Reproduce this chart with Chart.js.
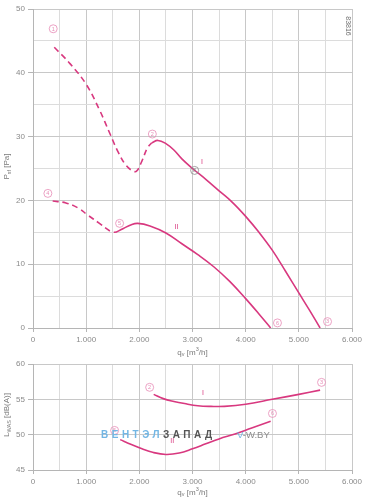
<!DOCTYPE html>
<html>
<head>
<meta charset="utf-8">
<script src="https://cdn.jsdelivr.net/npm/chart.js@4.4.0/dist/chart.umd.min.js"></script>
<style>
  body { margin: 0; background: #fff; width: 371px; height: 499px; overflow: hidden; position: relative; font-family: "Liberation Sans", Arial, sans-serif; }
  #pressureChart { position: absolute; left: 0; top: 0; }
  #noiseChart { position: absolute; left: 0; top: 355px; }
  .wm { position: absolute; top: 429px; font-size: 10px; line-height: 12px; white-space: nowrap; }
  .wm1 { left: 101px; letter-spacing: 3.5px; font-weight: bold; }
  .wm2 { left: 237px; font-size: 9.5px; }
  .blue { color: #72b6e4; }
  .dark { color: #555555; }
  .grey { color: #8c8c8c; }
</style>
</head>
<body>
<canvas id="pressureChart" width="371" height="360"></canvas>
<canvas id="noiseChart" width="371" height="144"></canvas>
<div class="wm wm1"><span class="blue">ВЕНТЭЛ</span><span class="dark">ЗАПАД</span></div>
<div class="wm wm2"><span class="blue">V</span><span class="grey">-W.BY</span></div>
<script>
// axis ranges / ticks
const qTicks = [0, 1000, 2000, 3000, 4000, 5000, 6000];
const pTicks = [0, 10, 20, 30, 40, 50];
const lTicks = [45, 50, 55, 60];

// static pressure, curve I (dashed = unstable part)
const p1DashQ = [400, 700, 1000, 1250, 1450, 1600, 1750, 1880, 1950, 2050, 2150, 2230];
const p1DashP = [44, 41.4, 38.2, 34.2, 30.4, 27.6, 25.5, 24.6, 24.6, 26.2, 28.2, 29.0];
const p1Q = [2230, 2350, 2500, 2650, 2800, 3000, 3250, 3500, 3750, 4000, 4250, 4500, 4750, 5000, 5200, 5400];
const p1P = [29.0, 29.4, 28.9, 27.9, 26.5, 25.0, 23.3, 21.5, 19.7, 17.5, 15.0, 12.2, 8.9, 5.5, 2.8, 0];

// static pressure, curve II
const p2DashQ = [370, 620, 850, 1030, 1250, 1470, 1560];
const p2DashP = [19.9, 19.6, 18.8, 17.7, 16.4, 15.1, 15.0];
const p2Q = [1560, 1700, 1850, 1970, 2200, 2500, 2800, 3100, 3400, 3700, 4000, 4250, 4470];
const p2P = [15.0, 15.6, 16.2, 16.4, 16.0, 14.9, 13.2, 11.5, 9.6, 7.3, 4.6, 2.2, 0];

// sound power
const l1Q = [2270, 2450, 2650, 2850, 3100, 3350, 3600, 4000, 4500, 5000, 5400];
const l1L = [55.7, 55.1, 54.7, 54.4, 54.1, 54.0, 54.0, 54.3, 55.0, 55.7, 56.3];
const l2Q = [1640, 1850, 2050, 2250, 2500, 2750, 3000, 3250, 3500, 3800, 4100, 4470];
const l2L = [49.3, 48.6, 48.0, 47.5, 47.2, 47.4, 48.0, 48.7, 49.4, 50.1, 50.9, 51.9];

// circled point numbers [q, value, label]
const pMarks = [[380, 46.9, '1'], [2245, 30.4, '2'], [5540, 1.0, '3'], [280, 21.1, '4'], [1629, 16.4, '5'], [4598, 0.8, '6']];
const pOpPoint = [3040, 24.7, '8'];
const pCurveNames = [[3180, 26.0, 'I'], [2700, 15.8, 'II']];
const lMarks = [[2194, 56.7, '2'], [1535, 50.6, '5'], [5427, 57.4, '3'], [4504, 53.0, '6']];
const lCurveNames = [[3198, 55.95, 'I'], [2620, 49.05, 'II']];

const PINK = '#d8387f';
const PINK_LIGHT = '#e78cb6';
const FONT = '"Liberation Sans", Arial, sans-serif';

function pts(xs, ys) {
  return xs.map((x, i) => ({ x: x, y: ys[i] }));
}

function curve(xs, ys, dashed) {
  return {
    data: pts(xs, ys),
    showLine: true,
    borderColor: PINK,
    borderWidth: 1.6,
    borderDash: dashed ? [6, 4] : [],
    pointRadius: 0,
    tension: 0.4,
    fill: false
  };
}

function fmtQ(v) {
  return v === 0 ? '0' : (v / 1000) + '.000';
}

function circled(ctx, x, y, label, color) {
  ctx.beginPath();
  ctx.arc(x, y, 4, 0, Math.PI * 2);
  ctx.lineWidth = 0.8;
  ctx.strokeStyle = color;
  ctx.stroke();
  ctx.fillStyle = color;
  ctx.font = '5.5px ' + FONT;
  ctx.textAlign = 'center';
  ctx.textBaseline = 'middle';
  ctx.fillText(label, x, y + 0.3);
}

// text with sub/superscripts, centred on (x, y)
function richText(ctx, parts, x, y, rot) {
  ctx.save();
  ctx.translate(x, y);
  ctx.rotate(rot);
  let w = 0;
  parts.forEach(p => {
    ctx.font = (p.s ? 5.5 : 8) + 'px ' + FONT;
    w += ctx.measureText(p.t).width;
  });
  let cx = -w / 2;
  ctx.textAlign = 'left';
  ctx.textBaseline = 'middle';
  ctx.fillStyle = '#7a7a7a';
  parts.forEach(p => {
    ctx.font = (p.s ? 5.5 : 8) + 'px ' + FONT;
    const dy = p.s === 'sub' ? 2.2 : (p.s === 'sup' ? -2.6 : 0);
    ctx.fillText(p.t, cx, dy);
    cx += ctx.measureText(p.t).width;
  });
  ctx.restore();
}

function axisX(max, ticks, height) {
  return {
    type: 'linear', min: 0, max: max,
    afterFit: s => { s.height = height; },
    ticks: {
      stepSize: 500, autoSkip: false, maxRotation: 0, padding: 3,
      color: '#8a8a8a', font: { family: FONT, size: 8 },
      callback: v => ticks.includes(v) ? fmtQ(v) : ''
    },
    grid: {
      color: c => c.tick && c.tick.value % 1000 === 0 ? '#c8c8c8' : '#dcdcdc',
      tickColor: c => c.tick && c.tick.value % 1000 === 0 ? '#b5b5b5' : 'rgba(0,0,0,0)',
      tickLength: 4
    },
    border: { color: '#b5b5b5' }
  };
}

function axisY(min, max, ticks, majorStep) {
  return {
    type: 'linear', min: min, max: max,
    afterFit: s => { s.width = 33; },
    ticks: {
      stepSize: 5, autoSkip: false, padding: 3,
      color: '#8a8a8a', font: { family: FONT, size: 8 },
      callback: v => ticks.includes(v) ? String(v) : ''
    },
    grid: {
      color: c => c.tick && c.tick.value % majorStep === 0 ? '#c8c8c8' : '#dcdcdc',
      tickColor: c => c.tick && ticks.includes(c.tick.value) ? '#b5b5b5' : 'rgba(0,0,0,0)',
      tickLength: 5
    },
    border: { color: '#b5b5b5' }
  };
}

function extrasPlugin(marks, opPoint, names, yTitle, xTitleOffset, code) {
  return {
    id: 'extras',
    afterDatasetsDraw(chart) {
      const ctx = chart.ctx;
      const xs = chart.scales.x, ys = chart.scales.y;
      const area = chart.chartArea;
      ctx.save();
      marks.forEach(m => circled(ctx, xs.getPixelForValue(m[0]), ys.getPixelForValue(m[1]), m[2], PINK_LIGHT));
      if (opPoint) {
        circled(ctx, xs.getPixelForValue(opPoint[0]), ys.getPixelForValue(opPoint[1]), opPoint[2], '#8a8a8a');
      }
      ctx.textAlign = 'center';
      ctx.textBaseline = 'middle';
      names.forEach(n => {
        ctx.fillStyle = PINK;
        ctx.font = '7px ' + FONT;
        ctx.fillText(n[2], xs.getPixelForValue(n[0]), ys.getPixelForValue(n[1]));
      });
      richText(ctx, [{ t: 'q' }, { t: 'v', s: 'sub' }, { t: ' [m' }, { t: '3', s: 'sup' }, { t: '/h]' }],
        (area.left + area.right) / 2, area.bottom + xTitleOffset, 0);
      richText(ctx, yTitle, 7, (area.top + area.bottom) / 2 - 2, -Math.PI / 2);
      if (code) {
        ctx.save();
        ctx.translate(area.right - 4.5, area.top + 17);
        ctx.rotate(Math.PI / 2);
        ctx.fillStyle = '#707070';
        ctx.font = '7px ' + FONT;
        ctx.textAlign = 'center';
        ctx.textBaseline = 'middle';
        ctx.fillText(code, 0, 0);
        ctx.restore();
      }
      ctx.restore();
    }
  };
}

new Chart(document.getElementById('pressureChart'), {
  type: 'scatter',
  data: {
    datasets: [
      curve(p1DashQ, p1DashP, true),
      curve(p1Q, p1P, false),
      curve(p2DashQ, p2DashP, true),
      curve(p2Q, p2P, false)
    ]
  },
  options: {
    responsive: false,
    animation: false,
    layout: { padding: { left: 0, right: 19, top: 9, bottom: 0 } },
    plugins: { legend: { display: false }, tooltip: { enabled: false } },
    scales: {
      x: axisX(6000, qTicks, 32),
      y: axisY(0, 50, pTicks, 10)
    }
  },
  plugins: [extrasPlugin(pMarks, pOpPoint, pCurveNames,
    [{ t: 'P' }, { t: 'sf', s: 'sub' }, { t: ' [Pa]' }], 24.5, '83816')]
});

new Chart(document.getElementById('noiseChart'), {
  type: 'scatter',
  data: {
    datasets: [
      curve(l1Q, l1L, false),
      curve(l2Q, l2L, false)
    ]
  },
  options: {
    responsive: false,
    animation: false,
    layout: { padding: { left: 0, right: 19, top: 9, bottom: 0 } },
    plugins: { legend: { display: false }, tooltip: { enabled: false } },
    scales: {
      x: axisX(6000, qTicks, 29),
      y: axisY(45, 60, lTicks, 5)
    }
  },
  plugins: [extrasPlugin(lMarks, null, lCurveNames,
    [{ t: 'L' }, { t: 'WAS', s: 'sub' }, { t: ' [dB(A)]' }], 22.5, null)]
});
</script>
</body>
</html>
